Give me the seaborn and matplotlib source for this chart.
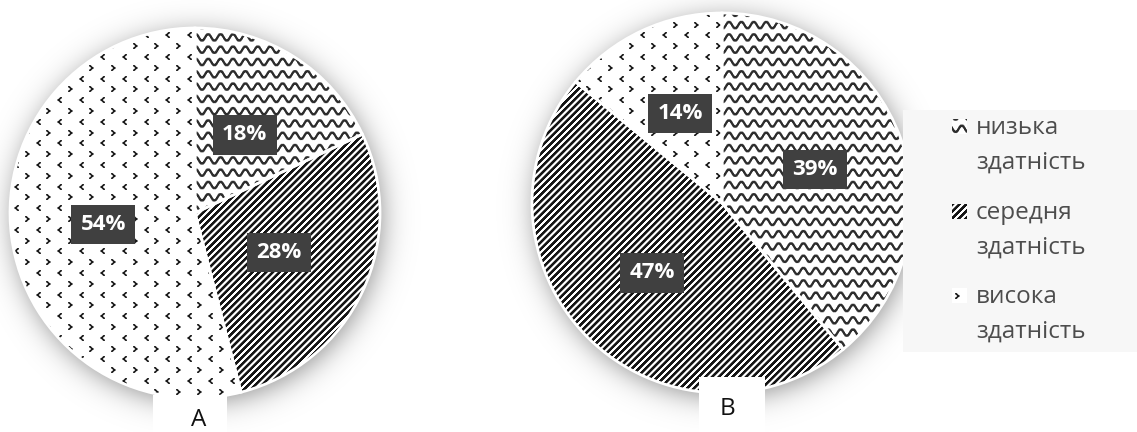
import numpy as np
import matplotlib
matplotlib.use("Agg")
import matplotlib.pyplot as plt
from matplotlib.patches import Rectangle
import seaborn as sns

# ---- data -------------------------------------------------------------
categories = ["низька\nздатність", "середня\nздатність", "висока\nздатність"]
group_labels = ["A", "B"]
shares_a = [18, 28, 54]
shares_b = [39, 47, 14]

sns.set_theme(style="white")
plt.rcParams["font.family"] = ["Open Sans", "DejaVu Sans"]

W, H = 1137, 432
fig = plt.figure(figsize=(W / 100, H / 100), dpi=100)
ax = fig.add_axes([0, 0, 1, 1])
ax.set_axis_off()

# pixel grid (row 0 = top) used to build the fill textures
yy, xx = np.mgrid[0:H, 0:W].astype(float)


def wave_ink(period=12.4, spacing=12.3, amp=3.0, width=1.25):
    phase = 2 * np.pi * xx / period
    off = yy - amp * np.sin(phase)
    d = np.abs(((off + spacing / 2) % spacing) - spacing / 2)
    slope = amp * 2 * np.pi / period * np.cos(phase)
    d = d / np.sqrt(1 + slope ** 2)
    return np.clip(width + 0.5 - d, 0, 1)


def stripe_ink(period=6.8):
    v = 0.5 + 0.5 * np.cos(2 * np.pi * (xx + yy) / period)
    return np.clip((v - 0.42) * 3.0 + 0.5, 0, 1)


def chevron_ink(dx=21.6, dy=10.8):
    ink = np.zeros((H, W))
    right = np.array([
        [0.9, 0.9, 0.2, 0.0, 0.0],
        [0.5, 1.0, 0.9, 0.2, 0.0],
        [0.0, 0.3, 1.0, 1.0, 0.5],
        [0.0, 0.3, 1.0, 1.0, 0.5],
        [0.5, 1.0, 0.9, 0.2, 0.0],
        [0.9, 0.9, 0.2, 0.0, 0.0],
    ])
    left = right[:, ::-1]
    nrows = int(H / dy) + 2
    ncols = int(W / dx) + 2
    for k in range(nrows):
        y0 = int(round(k * dy))
        mark = right if k % 2 == 0 else left
        xoff = 3 if k % 2 == 0 else 14
        for j in range(ncols):
            x0 = int(round(xoff + j * dx))
            ys = slice(y0, min(y0 + mark.shape[0], H))
            xs = slice(x0, min(x0 + mark.shape[1], W))
            h = ys.stop - ys.start
            w = xs.stop - xs.start
            if h > 0 and w > 0:
                ink[ys, xs] = np.maximum(ink[ys, xs], mark[:h, :w])
    return ink


def to_rgb(ink, dark=0.08):
    g = 1 - ink * (1 - dark)
    return np.dstack([g, g, g])


textures = [to_rgb(wave_ink(), dark=0.18), to_rgb(stripe_ink()),
            to_rgb(chevron_ink(), dark=0.1)]

# 15x15 pixel windows of each texture used as legend swatches
swatch_windows = [(3, 0), (0, 0), (17, 0)]  # (row, col) of the top-left corner

# ---- pie geometry (pixel units, y measured upward) -------------------
pies = [
    dict(shares=shares_a, cx=195, cy_img=213, r=185, pct=0.50),
    dict(shares=shares_b, cx=722, cy_img=203, r=190, pct=0.52),
]

# soft glow behind each pie
alpha = np.zeros((H, W))
for p in pies:
    d = np.hypot(xx - p["cx"] - 2, yy - p["cy_img"] - 4) - p["r"]
    a = 0.42 / (1 + np.exp(1.7 * d / 14.0))
    alpha = 1 - (1 - alpha) * (1 - a)
shadow = np.zeros((H, W, 4))
shadow[..., 3] = alpha
ax.imshow(shadow, extent=(0, W, 0, H), origin="upper", zorder=0,
          interpolation="nearest")

for p in pies:
    wedges, _, pct_texts = ax.pie(
        p["shares"], center=(p["cx"], H - p["cy_img"]), radius=p["r"],
        startangle=90, counterclock=False, frame=True,
        autopct=lambda v: f"{v:.0f}%", pctdistance=p["pct"],
        wedgeprops=dict(facecolor="none", edgecolor="white", linewidth=2.0),
        textprops=dict(color="white", fontsize=16, fontweight="bold"),
    )
    for wedge, tex in zip(wedges, textures):
        im = ax.imshow(tex, extent=(0, W, 0, H), origin="upper",
                       interpolation="nearest", zorder=2)
        im.set_clip_path(wedge)
        wedge.set_zorder(3)
    for t in pct_texts:
        t.set_zorder(6)
        t.set_bbox(dict(boxstyle="square,pad=0.42", fc="#404040", ec="none"))

# group captions under the pies
caption_boxes = [
    dict(x0=153, x1=227, top=395, tx=199, base=426),
    dict(x0=699, x1=765, top=377, tx=727, base=415),
]
for lab, b in zip(group_labels, caption_boxes):
    ax.add_patch(Rectangle((b["x0"], 0), b["x1"] - b["x0"], H - b["top"],
                           fc="white", ec="none", zorder=7))
    ax.text(b["tx"], H - b["base"], lab, ha="center", va="baseline",
            fontsize=17.5, color="#111111", zorder=8)

# legend panel
ax.add_patch(Rectangle((903, H - 352), W - 903, 352 - 110, fc="#f7f7f7",
                       ec="none", zorder=7))
entry_base = [134, 218.7, 303]
for cat, tex, (r0, c0), base in zip(categories, textures, swatch_windows,
                                    entry_base):
    top = base - 15
    patch = tex[r0:r0 + 15, c0:c0 + 15]
    ax.imshow(patch, extent=(952, 967, H - (top + 15), H - top),
              origin="upper", interpolation="nearest", zorder=8)
    for i, line in enumerate(cat.split("\n")):
        ax.text(976, H - (base + 34.5 * i), line, ha="left", va="baseline",
                fontsize=17.5, color="#4d4d4d", zorder=9)

ax.set_xlim(0, W)
ax.set_ylim(0, H)
ax.set_aspect("equal")

fig.savefig("out.png", dpi=100, facecolor="white")
